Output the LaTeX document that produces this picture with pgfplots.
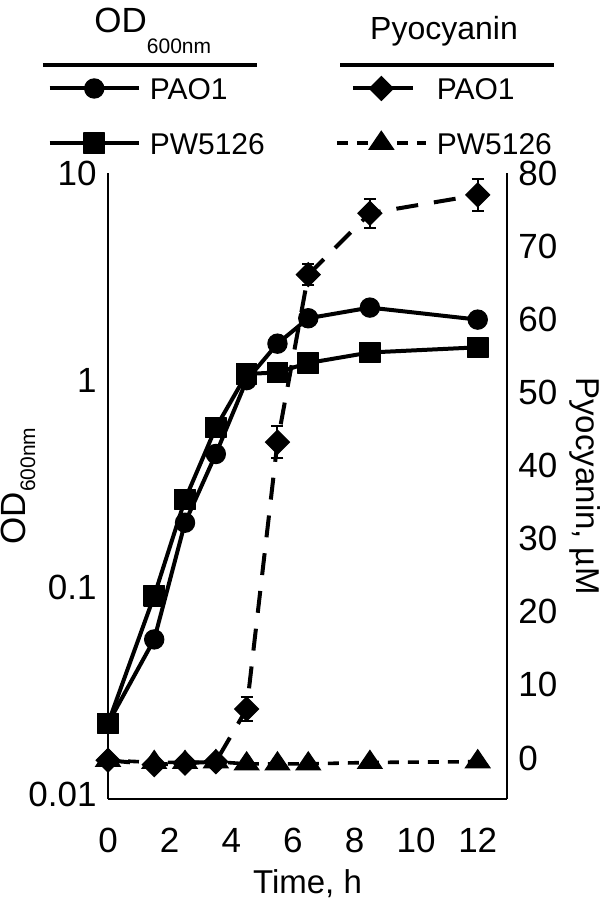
\documentclass[border=0pt]{standalone}
\usepackage{fontspec}
\setmainfont{Liberation Sans}
\usepackage{pgfplots}
\pgfplotsset{compat=1.18}

\pgfplotsset{
  odA/.style={black, solid, line width=2pt, line join=round, mark=*, mark size=4.8pt, mark options={solid, line width=0.6pt}},
  odB/.style={black, solid, line width=2pt, line join=round, mark=square*, mark size=5.1pt, mark options={solid, line width=0.6pt}},
  pyoA/.style={black, line width=2pt, dash pattern=on 11pt off 8pt, mark=square*, mark size=4.2pt, mark options={solid, rotate=45, line width=0.6pt}},
  pyoB/.style={black, line width=1.8pt, dash pattern=on 5.5pt off 4.5pt, mark=triangle*, mark size=7pt, mark options={solid, yscale=0.85, line width=0.6pt}},
}

\begin{document}
\begin{tikzpicture}
\useasboundingbox (-54pt,-53pt) rectangle (246pt,399.5pt);

% legend headers
\node[anchor=base west, inner sep=0pt, font=\fontsize{17.5}{20}\selectfont] at (-7pt,383pt) {OD\raisebox{-10.5pt}{\fontsize{10.5}{12}\selectfont 600nm}};
\draw[line width=2pt] (-32.5pt,367pt) -- (74.5pt,367pt);
\node[anchor=base, inner sep=0pt, font=\fontsize{16}{18}\selectfont] at (168pt,379.8pt) {Pyocyanin};
\draw[line width=2pt] (116pt,367pt) -- (223pt,367pt);

\begin{axis}[
  scale only axis, width=199.5pt, height=313pt,
  xmin=0, xmax=12.95, ymode=log, ymin=0.0095, ymax=10,
  axis x line*=bottom, axis y line*=left,
  axis line style={line width=1pt, -},
  xtick={0,2,...,12},
  ytick={0.01,0.1,1,10}, yticklabels={0.01,0.1,1,10},
  yminorticks=false, xminorticks=false,
  major tick length=0pt, tick style={draw=none},
  /pgf/number format/assume math mode=true,
  ticklabel style={font=\fontsize{17.5}{20}\selectfont},
  xticklabel style={anchor=base, inner sep=0pt, yshift=-26.5pt},
  yticklabel style={anchor=east, inner sep=0pt, xshift=-5.5pt},
  clip=false,
  xlabel={Time, h},
  ylabel={OD\raisebox{-5pt}{\fontsize{10.5}{12}\selectfont 600nm}},
  every axis x label/.style={at={(axis description cs:0.5,0)}, anchor=base, yshift=-47pt, font=\fontsize{16.5}{19}\selectfont},
  every axis y label/.style={at={(axis description cs:-0.208,0.5)}, anchor=base, rotate=90, font=\fontsize{17.5}{20}\selectfont},
]
\addplot[odA] coordinates {(0,0.022) (1.5,0.056) (2.5,0.205) (3.5,0.44) (4.5,1.0) (5.5,1.5) (6.5,1.99) (8.5,2.24) (12,1.96)};
\addplot[odB] coordinates {(0,0.022) (1.5,0.091) (2.5,0.265) (3.5,0.59) (4.5,1.07) (5.5,1.09) (6.5,1.21) (8.5,1.36) (12,1.44)};
\end{axis}

\begin{axis}[
  scale only axis, width=199.5pt, height=313pt,
  xmin=0, xmax=12.95, ymin=-5.6, ymax=80,
  axis x line=none, axis y line*=right,
  axis line style={line width=1pt, -},
  ytick={0,10,...,80},
  major tick length=0pt, tick style={draw=none},
  /pgf/number format/assume math mode=true,
  ticklabel style={font=\fontsize{17.5}{20}\selectfont},
  yticklabel style={anchor=west, inner sep=0pt, xshift=5.5pt},
  clip=false,
  ylabel={Pyocyanin, µM},
  every axis y label/.style={at={(axis description cs:1.173,0.5)}, anchor=base, rotate=-90, font=\fontsize{16.5}{19}\selectfont},
  legend columns=2,
  legend style={draw=none, fill=none, inner sep=0pt, outer sep=0pt,
    at={(axis description cs:-0.151,1.092)}, anchor=west,
    row sep=15.5pt, column sep=4.5pt,
    /tikz/every even column/.append style={column sep=35pt},
    cells={anchor=west},
    nodes={inner sep=0pt, text height=11pt, text depth=0pt},
    font=\fontsize{15}{18}\selectfont},
  legend image code/.code={\draw[mark repeat=2, mark phase=2, #1] plot coordinates {(0pt,0pt) (22.25pt,0pt) (44.5pt,0pt)};},
]
\addlegendimage{odA}\addlegendentry{PAO1}
\addlegendimage{pyoA, dash phase=11pt}\addlegendentry{PAO1}
\addlegendimage{odB}\addlegendentry{PW5126}
\addlegendimage{pyoB}\addlegendentry{PW5126}

\addplot[pyoA, forget plot, error bars/.cd, y dir=both, y explicit,
  error bar style={solid, line width=1pt},
  error mark options={solid, rotate=90, mark size=3pt, line width=1pt}]
  coordinates {(0,-0.3) +- (0,0) (1.5,-0.9) +- (0,0) (2.5,-0.7) +- (0,0) (3.5,-0.5) +- (0,0)
  (4.5,6.7) +- (0,1.7) (5.5,43.2) +- (0,2.2) (6.5,66.1) +- (0,1.4) (8.5,74.5) +- (0,2.0) (12,77.0) +- (0,2.2)};
\addplot[pyoB, forget plot] coordinates {(0,-0.3) (1.5,-0.6) (2.5,-0.6) (3.5,-0.5) (4.5,-0.8) (5.5,-0.8) (6.5,-0.8) (8.5,-0.6) (12,-0.5)};
\end{axis}
\end{tikzpicture}
\end{document}
